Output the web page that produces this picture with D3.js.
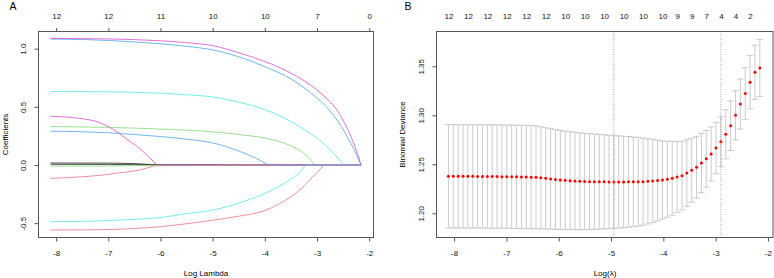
<!DOCTYPE html>
<html>
<head>
<meta charset="utf-8">
<script src="https://cdn.jsdelivr.net/npm/d3@7"></script>
<style>
body{margin:0;background:#fff}
text{font-family:"Liberation Sans",Arial,sans-serif}
</style>
</head>
<body>
<div id="chart"></div>
<script>
var WIDTH=774, HEIGHT=278;
var FS=8;

// ---- panel A: lasso coefficient paths, [log lambda, coefficient] ----
var pathBlack1=[[-8.108,0.017],[-7,0.016],[-6.5,0.012],[-6.07,0.003],[-4,0.002],[-3,0],[-2.156,0]];
var pathRed2=[[-8.108,-0.559],[-7.5,-0.558],[-7,-0.555],[-6.5,-0.546],[-6,-0.53],[-5.5,-0.505],[-5,-0.475],[-4.5,-0.44],[-4,-0.392],[-3.75,-0.34],[-3.5,-0.272],[-3.25,-0.18],[-3.1,-0.11],[-2.97,-0.05],[-2.87,0],[-2.156,0]];
var pathGreen1=[[-8.108,0.330],[-7,0.323],[-6,0.309],[-5,0.285],[-4.5,0.262],[-4,0.232],[-3.75,0.205],[-3.5,0.165],[-3.3,0.115],[-3.15,0.058],[-3.05,0],[-2.156,0]];
var pathBlue1=[[-8.108,1.083],[-7.5,1.079],[-7,1.071],[-6.5,1.058],[-6,1.042],[-5.5,1.020],[-5,0.990],[-4.5,0.930],[-4,0.845],[-3.5,0.740],[-3.25,0.665],[-3,0.575],[-2.8,0.490],[-2.6,0.375],[-2.5,0.305],[-2.4,0.225],[-2.3,0.140],[-2.156,0]];
var pathCyan1=[[-8.108,0.632],[-7,0.630],[-6.5,0.625],[-6,0.617],[-5.5,0.604],[-5,0.585],[-4.5,0.54],[-4,0.476],[-3.75,0.43],[-3.5,0.375],[-3.25,0.305],[-3,0.232],[-2.85,0.175],[-2.75,0.13],[-2.6,0.06],[-2.5,0],[-2.156,0]];
var pathMagenta1=[[-8.108,1.088],[-7.5,1.087],[-7,1.084],[-6.5,1.078],[-6,1.068],[-5.5,1.052],[-5,1.026],[-4.5,0.965],[-4,0.890],[-3.5,0.790],[-3.25,0.725],[-3,0.645],[-2.8,0.565],[-2.6,0.460],[-2.5,0.385],[-2.4,0.295],[-2.3,0.190],[-2.156,0]];
var pathBlack2=[[-8.108,0.006],[-7,0.005],[-6.07,0.001],[-3.9,0],[-2.156,0]];
var pathRed1=[[-8.108,-0.115],[-7.5,-0.101],[-7.1,-0.086],[-6.8,-0.068],[-6.47,-0.049],[-6.25,-0.025],[-6.07,-0.006],[-5,-0.004],[-4.5,0],[-2.156,0]];
var pathGreen2=[[-8.108,-0.01],[-7,-0.009],[-6.5,-0.006],[-6.07,-0.002],[-4,0],[-2.156,0]];
var pathBlue2=[[-8.108,0.29],[-7.5,0.286],[-7,0.277],[-6.5,0.262],[-6,0.245],[-5.5,0.222],[-5,0.19],[-4.5,0.12],[-4.25,0.075],[-4.05,0.03],[-3.93,0],[-2.156,0]];
var pathCyan2=[[-8.108,-0.487],[-7.5,-0.485],[-7,-0.478],[-6.5,-0.467],[-6,-0.452],[-5.5,-0.418],[-5,-0.388],[-4.5,-0.327],[-4.25,-0.29],[-4,-0.245],[-3.75,-0.19],[-3.5,-0.12],[-3.35,-0.07],[-3.22,0],[-2.156,0]];
var pathMagenta2=[[-8.108,0.419],[-7.8,0.412],[-7.5,0.398],[-7.2,0.37],[-7,0.33],[-6.8,0.275],[-6.64,0.22],[-6.48,0.17],[-6.33,0.114],[-6.2,0.06],[-6.07,0],[-2.156,0]];

var coefPaths=[pathBlack1,pathRed2,pathGreen1,pathBlue1,pathCyan1,pathMagenta1,
               pathBlack2,pathRed1,pathGreen2,pathBlue2,pathCyan2,pathMagenta2];
var palette=["#2a2a2a","#E57A8C","#86DB78","#55A9EC","#5CE7E9","#DA55D0"];

var ticksA=[-8,-7,-6,-5,-4,-3,-2];
var dfA=[12,12,11,10,10,7,0];
var coefTicks=[-0.5,0,0.5,1.0];

// ---- panel B: cross-validation curve ----
var logLambda=[-8.108,-8.015,-7.922,-7.829,-7.736,-7.643,-7.550,-7.457,-7.364,-7.271,
  -7.178,-7.085,-6.992,-6.899,-6.806,-6.713,-6.620,-6.527,-6.434,-6.341,
  -6.248,-6.155,-6.062,-5.969,-5.876,-5.783,-5.690,-5.597,-5.504,-5.411,
  -5.318,-5.225,-5.132,-5.039,-4.946,-4.853,-4.760,-4.667,-4.574,-4.481,
  -4.388,-4.295,-4.202,-4.109,-4.016,-3.923,-3.830,-3.737,-3.644,-3.551,
  -3.458,-3.365,-3.272,-3.179,-3.086,-2.993,-2.900,-2.807,-2.714,-2.621,
  -2.528,-2.435,-2.342,-2.249,-2.156];
var cvm=[1.2378,1.2378,1.2377,1.2377,1.2377,1.2377,1.2376,1.2376,1.2376,1.2375,
  1.2375,1.2374,1.2374,1.2373,1.2372,1.2371,1.2370,1.2369,1.2367,1.2362,
  1.2357,1.2351,1.2345,1.2340,1.2336,1.2333,1.2330,1.2327,1.2324,1.2323,
  1.2322,1.2321,1.2321,1.2320,1.2319,1.2320,1.2320,1.2321,1.2321,1.2322,
  1.2323,1.2326,1.2330,1.2335,1.2340,1.2347,1.2357,1.2370,1.2384,1.2410,
  1.2440,1.2470,1.2513,1.2556,1.2606,1.2666,1.2731,1.2806,1.2894,1.3000,
  1.3114,1.3222,1.3337,1.3439,1.3483];
var cvsd=[0.0527,0.0527,0.0527,0.0527,0.0527,0.0527,0.0527,0.0527,0.0527,0.0527,
  0.0527,0.0527,0.0527,0.0527,0.0527,0.0527,0.0527,0.0527,0.0524,0.0520,
  0.0516,0.0512,0.0508,0.0505,0.0502,0.0499,0.0496,0.0494,0.0492,0.0489,
  0.0486,0.0483,0.0480,0.0477,0.0473,0.0470,0.0466,0.0462,0.0457,0.0452,
  0.0445,0.0435,0.0425,0.0412,0.0398,0.0388,0.0376,0.0362,0.0350,0.0340,
  0.0327,0.0316,0.0303,0.0289,0.0275,0.0262,0.0253,0.0250,0.0253,0.0250,
  0.0255,0.0264,0.0272,0.0276,0.0290];
var topBLogLambda=[-8.108,-7.736,-7.364,-6.992,-6.620,-6.248,-5.876,-5.504,-5.132,-4.760,-4.388,-4.016,-3.737,-3.458,-3.179,-2.900,-2.621,-2.342];
var topBDf=[12,12,12,12,12,12,10,10,10,10,10,10,9,9,7,4,4,2];
var lambdaMinLog=-4.946, lambda1seLog=-2.900;
var devTicks=[1.20,1.25,1.30,1.35];

var svg=d3.select("#chart").append("svg")
  .attr("width",WIDTH).attr("height",HEIGHT)
  .style("font-size",FS+"px");

var BOX_TOP=31.5, BOX_BOT=237.5;

var xA=d3.scaleLinear().domain([-8.338,-1.918]).range([38.5,373.5]);
var yA=d3.scaleLinear().domain([-0.625,1.152]).range([237.7,31]);
var xB=d3.scaleLinear().domain([-8.336,-1.904]).range([436.5,773]);
var yB=d3.scaleLinear().domain([1.1751,1.3860]).range([237.7,31]);

function drawAxes(x, y, yTicks, yFmt, topVals, topLabels, topTick){
  var x0=x.range()[0];

  var gb=svg.append("g").attr("transform","translate(0,"+BOX_BOT+")")
    .call(d3.axisBottom(x).tickValues(ticksA).tickSize(4).tickFormat(function(d){return String(d);}));
  gb.select(".domain").remove();
  gb.selectAll("line").attr("stroke","#555");
  gb.selectAll("text").attr("y",18.5).attr("dy",null).attr("fill","#111")
    .style("font-size",FS+"px");

  var gl=svg.append("g").attr("transform","translate("+x0+",0)")
    .call(d3.axisLeft(y).tickValues(yTicks).tickSize(4).tickFormat(yFmt));
  gl.select(".domain").remove();
  gl.selectAll("line").attr("stroke","#555");
  gl.selectAll("text").attr("x",0).attr("dy",null).attr("text-anchor","middle")
    .attr("transform","translate(-12.5,0) rotate(-90)").attr("fill","#111")
    .style("font-size",FS+"px");

  var gt=svg.append("g").attr("transform","translate(0,"+BOX_TOP+")")
    .call(d3.axisTop(x).tickValues(topVals).tickSize(topTick?3.5:0)
      .tickFormat(function(d,i){return topLabels[i];}));
  gt.select(".domain").remove();
  gt.selectAll("line").attr("stroke","#555");
  gt.selectAll("text").attr("y",-12.5).attr("dy",null).attr("fill","#111")
    .style("font-size",FS+"px");
}

// ---------- panel A ----------
// smooth part up to where the coefficient drops to zero, straight after it
var curveA=d3.line().curve(d3.curveMonotoneX)
  .x(function(d){return xA(d[0]);}).y(function(d){return yA(d[1]);});
function pathD(p){
  var z=p.length-1;
  while(z>0 && p[z-1][1]===0) z--;
  var d=curveA(p.slice(0,z+1));
  if(z<p.length-1) d+="L"+xA(p[p.length-1][0])+","+yA(0);
  return d;
}

svg.append("g").selectAll("path")
  .data(coefPaths).enter().append("path")
  .attr("d",pathD)
  .attr("fill","none")
  .attr("stroke",function(d,i){return palette[i%6];})
  .attr("stroke-width",0.85);

svg.append("rect")
  .attr("x",38.5).attr("y",BOX_TOP)
  .attr("width",373.5-38.5).attr("height",BOX_BOT-BOX_TOP)
  .attr("fill","none").attr("stroke","#555");

drawAxes(xA,yA,coefTicks,function(d){return d.toFixed(1);},ticksA,dfA,true);

svg.append("text").attr("x",206).attr("y",275.5)
  .attr("text-anchor","middle").style("font-size",FS+"px").text("Log Lambda");
svg.append("text").attr("transform","translate(7.5,134.5) rotate(-90)")
  .attr("text-anchor","middle").style("font-size",FS+"px").text("Coefficients");
svg.append("text").attr("x",9.5).attr("y",10).style("font-size","10.5px").text("A");

// ---------- panel B ----------
var CAP=3.3;
var bars=svg.append("g").selectAll("g")
  .data(logLambda).enter().append("g");
bars.append("line")
  .attr("x1",function(d){return xB(d);}).attr("x2",function(d){return xB(d);})
  .attr("y1",function(d,i){return yB(cvm[i]+cvsd[i]);})
  .attr("y2",function(d,i){return yB(cvm[i]-cvsd[i]);});
bars.append("line")
  .attr("x1",function(d){return xB(d)-CAP;}).attr("x2",function(d){return xB(d)+CAP;})
  .attr("y1",function(d,i){return yB(cvm[i]+cvsd[i]);})
  .attr("y2",function(d,i){return yB(cvm[i]+cvsd[i]);});
bars.append("line")
  .attr("x1",function(d){return xB(d)-CAP;}).attr("x2",function(d){return xB(d)+CAP;})
  .attr("y1",function(d,i){return yB(cvm[i]-cvsd[i]);})
  .attr("y2",function(d,i){return yB(cvm[i]-cvsd[i]);});
bars.selectAll("line").attr("stroke","#c2c2c2").attr("stroke-width",0.85);

svg.append("g").selectAll("circle")
  .data(logLambda).enter().append("circle")
  .attr("cx",function(d){return xB(d);})
  .attr("cy",function(d,i){return yB(cvm[i]);})
  .attr("r",1.5)
  .attr("fill","#ff0000");

svg.append("g").selectAll("line")
  .data([lambdaMinLog,lambda1seLog]).enter().append("line")
  .attr("x1",function(d){return xB(d);}).attr("x2",function(d){return xB(d);})
  .attr("y1",BOX_TOP).attr("y2",BOX_BOT)
  .attr("stroke","#888").attr("stroke-width",0.8).attr("stroke-dasharray","1,1.5");

svg.append("rect")
  .attr("x",436.5).attr("y",BOX_TOP)
  .attr("width",773-436.5).attr("height",BOX_BOT-BOX_TOP)
  .attr("fill","none").attr("stroke","#555");

drawAxes(xB,yB,devTicks,function(d){return d.toFixed(2);},topBLogLambda,topBDf,false);

svg.append("text").attr("x",605).attr("y",275.5)
  .attr("text-anchor","middle").style("font-size",FS+"px").text("Log(\u03bb)");
svg.append("text").attr("transform","translate(405,134.5) rotate(-90)")
  .attr("text-anchor","middle").style("font-size",FS+"px").text("Binomial Deviance");
svg.append("text").attr("x",404.5).attr("y",10).style("font-size","10.5px").text("B");
</script>
</body>
</html>
